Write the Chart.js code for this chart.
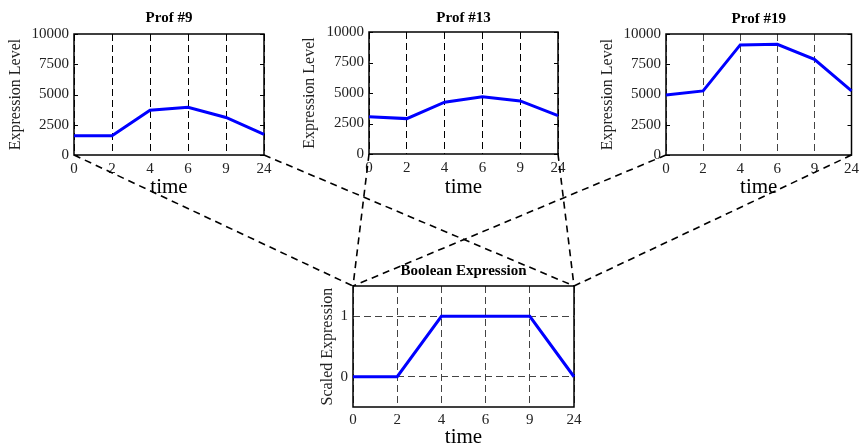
<!DOCTYPE html>
<html>
<head>
<meta charset="utf-8">
<script src="https://cdn.jsdelivr.net/npm/chart.js@4"></script>
<style>
html, body { margin: 0; padding: 0; background: #fff; overflow: hidden; }
#wrap { position: relative; width: 864px; height: 444px; }
canvas { position: absolute; }
</style>
</head>
<body>
<div id="wrap">
	<canvas id="prof9"></canvas>
	<canvas id="prof13"></canvas>
	<canvas id="prof19"></canvas>
	<canvas id="boolExpr"></canvas>
	<canvas id="links" width="864" height="444" style="left:0;top:0;pointer-events:none"></canvas>
</div>
<script>
// time points (category axis)
const TIMES = ['0', '2', '4', '6', '9', '24'];

// raw expression profiles
const PROF9 = [1600, 1600, 3700, 3950, 3100, 1700];
const PROF13 = [3050, 2900, 4250, 4700, 4350, 3150];
const PROF19 = [4950, 5300, 9100, 9150, 7900, 5300];

// boolean (scaled) expression
const BOOL_EXPR = [0, 0, 1, 1, 1, 0];

// y tick values
const LEVEL_TICKS = [0, 2500, 5000, 7500, 10000];
const SCALED_TICKS = [0, 1];

const SERIF = "'Liberation Serif', 'Times New Roman', serif";

// box around the plot area, inward y ticks, title centred on the plot area
const framePlugin = {
	id: 'frame',
	beforeDatasetsDraw(chart, args, opts) {
		const ctx = chart.ctx;
		const a = chart.chartArea;
		ctx.save();
		ctx.strokeStyle = '#000';
		ctx.lineWidth = 1.5;
		ctx.strokeRect(a.left, a.top, a.right - a.left, a.bottom - a.top);
		if (opts.innerTicks) {
			const ys = chart.scales.y;
			ctx.lineWidth = 1;
			ys.ticks.forEach(function(t) {
				const p = Math.round(ys.getPixelForValue(t.value)) + 0.5;
				ctx.beginPath();
				ctx.moveTo(a.left, p); ctx.lineTo(a.left + 4, p);
				ctx.moveTo(a.right - 4, p); ctx.lineTo(a.right, p);
				ctx.stroke();
			});
		}
		ctx.restore();
	},
	afterDraw(chart, args, opts) {
		const ctx = chart.ctx;
		const a = chart.chartArea;
		ctx.save();
		ctx.fillStyle = '#000';
		ctx.font = 'bold 15px ' + SERIF;
		ctx.textAlign = 'center';
		ctx.textBaseline = 'middle';
		ctx.fillText(opts.text, (a.left + a.right) / 2, opts.y);
		ctx.restore();
	}
};

/**
 * one subplot
 */
function makeChart(id, cfg) {
	const canvas = document.getElementById(id);
	canvas.width = cfg.w;
	canvas.height = cfg.h;
	canvas.style.left = cfg.x + 'px';
	canvas.style.top = cfg.y + 'px';

	return new Chart(canvas.getContext('2d'), {
		type: 'line',
		data: {
			labels: TIMES,
			datasets: [{
				data: cfg.values,
				borderColor: '#0000ff',
				borderWidth: 3,
				pointRadius: 0,
				tension: 0,
				fill: false
			}]
		},
		plugins: [framePlugin],
		options: {
			responsive: false,
			animation: false,
			layout: { padding: { left: 0, top: cfg.topH, bottom: 0, right: cfg.padRight } },
			scales: {
				x: {
					grid: { display: true, drawTicks: false, color: cfg.gridColor, lineWidth: 1 },
					border: { display: false, dash: [7, 4] },
					ticks: { color: '#222', padding: cfg.xTickPad, maxRotation: 0, autoSkip: false,
						font: { family: SERIF, size: 15 } },
					title: { display: true, text: 'time', color: '#000', padding: { top: 0, bottom: 0 },
						font: { family: SERIF, size: 21 } },
					afterFit: function(s) { s.height = cfg.xH; }
				},
				y: {
					min: cfg.yMin,
					max: cfg.yMax,
					grid: { display: cfg.yGrid, drawTicks: false, color: cfg.gridColor, lineWidth: 1 },
					border: { display: false, dash: [7, 4] },
					ticks: { color: '#222', padding: 5, font: { family: SERIF, size: 15 },
						callback: function(value) { return String(value); } },
					afterBuildTicks: function(s) {
						s.ticks = cfg.yTicks.map(function(v) { return { value: v }; });
					},
					title: { display: true, text: cfg.yTitle, color: '#222', padding: { top: cfg.yTitlePad, bottom: 0 },
						font: { family: SERIF, size: 16 } },
					afterFit: function(s) { s.width = cfg.yW; }
				}
			},
			plugins: {
				legend: { display: false },
				tooltip: { enabled: false },
				title: { display: false },
				frame: { innerTicks: cfg.innerTicks, text: cfg.title, y: cfg.titleY }
			}
		}
	});
}

const topCommon = {
	w: 290, h: 200, yW: 74, xH: 45, xTickPad: 5,
	yMin: 0, yMax: 10000, yTicks: LEVEL_TICKS, yGrid: false,
	yTitle: 'Expression Level', innerTicks: true
};

const c9 = makeChart('prof9', Object.assign({}, topCommon, {
	x: 0, y: 0, padRight: 26, title: 'Prof #9', values: PROF9,
	topH: 34, titleY: 18, yTitlePad: 6, gridColor: '#000'
}));
const c13 = makeChart('prof13', Object.assign({}, topCommon, {
	x: 295, y: 0, padRight: 27, xH: 46, title: 'Prof #13', values: PROF13,
	topH: 32, titleY: 18, yTitlePad: 5, gridColor: '#000'
}));
const c19 = makeChart('prof19', Object.assign({}, topCommon, {
	x: 592, y: 0, w: 272, padRight: 9, title: 'Prof #19', values: PROF19,
	topH: 34, titleY: 19, yTitlePad: 6, gridColor: '#444'
}));
const cBool = makeChart('boolExpr', {
	x: 300, y: 250, w: 290, h: 200, yW: 53, xH: 43, xTickPad: 4, padRight: 16,
	yMin: -0.5, yMax: 1.5, yTicks: SCALED_TICKS, yGrid: true,
	yTitle: 'Scaled Expression', innerTicks: false,
	title: 'Boolean Expression', values: BOOL_EXPR,
	topH: 36, titleY: 21, yTitlePad: 18, gridColor: '#444'
});

// dashed zoom lines from each top plot to the boolean plot
function drawLinks() {
	const ctx = document.getElementById('links').getContext('2d');
	const target = cBool.chartArea;
	const tx = parseFloat(cBool.canvas.style.left);
	const ty = parseFloat(cBool.canvas.style.top);
	ctx.strokeStyle = '#000';
	ctx.lineWidth = 1.6;
	ctx.setLineDash([7, 5]);
	[c9, c13, c19].forEach(function(c) {
		const a = c.chartArea;
		const ox = parseFloat(c.canvas.style.left);
		const oy = parseFloat(c.canvas.style.top);
		ctx.beginPath();
		ctx.moveTo(ox + a.left, oy + a.bottom);
		ctx.lineTo(tx + target.left, ty + target.top);
		ctx.moveTo(ox + a.right, oy + a.bottom);
		ctx.lineTo(tx + target.right, ty + target.top);
		ctx.stroke();
	});
}
drawLinks();
</script>
</body>
</html>
